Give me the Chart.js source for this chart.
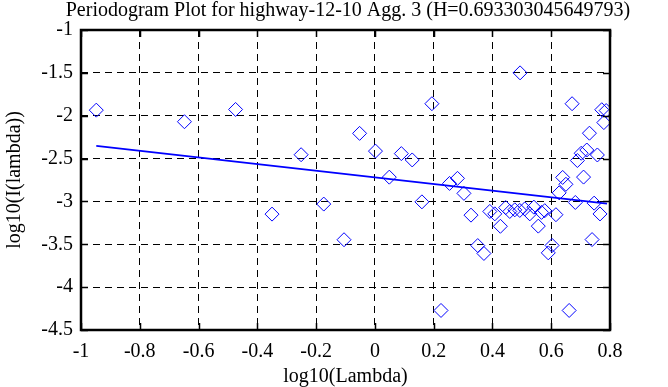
<!DOCTYPE html>
<html>
<head>
<meta charset="utf-8">
<script src="https://cdn.jsdelivr.net/npm/chart.js@4.4.1/dist/chart.umd.min.js"></script>
<style>
  html, body { margin:0; padding:0; background:#fff; }
  #wrap { width:668px; height:387px; }
</style>
</head>
<body>
<div id="wrap"><canvas id="pgram" width="668" height="387"></canvas></div>
<script>
// periodogram points (log10 lambda, log10 I(lambda))
const logLambda = [
  -0.948, -0.648, -0.474, -0.350, -0.251, -0.174, -0.105, -0.052, 0.002, 0.049,
  0.090, 0.127, 0.160, 0.194, 0.225, 0.254, 0.281, 0.303, 0.327, 0.350,
  0.371, 0.391, 0.408, 0.427, 0.445, 0.459, 0.476, 0.493, 0.494, 0.510,
  0.527, 0.541, 0.556, 0.567, 0.578, 0.590, 0.603, 0.616, 0.627, 0.639,
  0.650, 0.661, 0.671, 0.682, 0.689, 0.702, 0.710, 0.721, 0.730, 0.739,
  0.746, 0.757, 0.766, 0.772, 0.779, 0.787
];
const logPower = [
  -1.935, -2.070, -1.927, -3.148, -2.455, -3.031, -3.447, -2.206, -2.413, -2.717,
  -2.442, -2.516, -3.005, -1.860, -4.272, -2.790, -2.731, -2.906, -3.160, -3.515,
  -3.607, -3.117, -3.145, -3.290, -3.072, -3.117, -3.098, -3.105, -1.500, -3.087,
  -3.145, -3.067, -3.288, -3.128, -3.108, -3.600, -3.513, -3.155, -2.900, -2.720,
  -2.800, -4.272, -1.860, -3.012, -2.523, -2.438, -2.716, -2.400, -2.204, -3.445,
  -3.020, -2.458, -3.146, -1.930, -2.080, -1.940
];
// least squares fit line endpoints
const fitX = [-0.948, 0.79];
const fitY = [-2.353, -3.025];

const xTicks = [-1, -0.8, -0.6, -0.4, -0.2, 0, 0.2, 0.4, 0.6, 0.8];
const yTicks = [-1, -1.5, -2, -2.5, -3, -3.5, -4, -4.5];

const titleText = 'Periodogram Plot for highway-12-10 Agg. 3 (H=0.693303045649793)';
const serif = 'Liberation Serif';
const fmt = v => (Math.round(v * 10) / 10).toString();

// title, plus solid box round the plot with short inward ticks
const frame = {
  id: 'frame',
  afterDraw(chart) {
    const {ctx, chartArea: a, scales: {x, y}} = chart;
    ctx.save();
    ctx.fillStyle = '#000';
    ctx.font = '20px "' + serif + '"';
    ctx.textAlign = 'center';
    ctx.textBaseline = 'middle';
    ctx.fillText(titleText, 348, 11);

    ctx.strokeStyle = '#000';
    ctx.lineWidth = 1.5;
    ctx.beginPath();
    xTicks.forEach(v => {
      const px = Math.round(x.getPixelForValue(v)) + 0.5;
      ctx.moveTo(px, a.top); ctx.lineTo(px, a.top + 7);
      ctx.moveTo(px, a.bottom); ctx.lineTo(px, a.bottom - 7);
    });
    yTicks.forEach(v => {
      const py = Math.round(y.getPixelForValue(v)) + 0.5;
      ctx.moveTo(a.left, py); ctx.lineTo(a.left + 7, py);
      ctx.moveTo(a.right, py); ctx.lineTo(a.right - 7, py);
    });
    ctx.stroke();
    ctx.lineWidth = 2.5;
    ctx.strokeRect(a.left, a.top, a.right - a.left, a.bottom - a.top);
    ctx.restore();
  }
};

new Chart(document.getElementById('pgram'), {
  type: 'scatter',
  data: {
    datasets: [
      {
        label: 'fit',
        data: fitX.map((v, i) => ({x: v, y: fitY[i]})),
        showLine: true, borderColor: '#0000ff', borderWidth: 1.8,
        pointRadius: 0, fill: false
      },
      {
        label: 'periodogram',
        data: logLambda.map((v, i) => ({x: v, y: logPower[i]})),
        pointStyle: 'rectRot', pointRadius: 7, borderWidth: 1,
        borderColor: '#0000ff', backgroundColor: 'rgba(0,0,0,0)'
      }
    ]
  },
  options: {
    responsive: false, animation: false, devicePixelRatio: 1,
    layout: {padding: {top: 30, right: 58}},
    plugins: {
      legend: {display: false},
      tooltip: {enabled: false},
      title: {display: false}
    },
    scales: {
      x: {
        type: 'linear', min: -1, max: 0.8,
        afterBuildTicks: s => { s.ticks = xTicks.map(v => ({value: v})); },
        afterFit: s => { s.height = 57; },
        grid: {color: '#000', lineWidth: 1, drawTicks: false},
        border: {display: false, dash: [7, 5]},
        ticks: {color: '#000', font: {family: serif, size: 20}, padding: 10,
                maxRotation: 0, autoSkip: false, callback: fmt},
        title: {display: true, text: 'log10(Lambda)', color: '#000',
                font: {family: serif, size: 20, lineHeight: 1}, padding: {top: 0, bottom: 0}}
      },
      y: {
        type: 'linear', min: -4.5, max: -1,
        afterBuildTicks: s => { s.ticks = yTicks.map(v => ({value: v})); },
        afterFit: s => { s.width = 81; },
        grid: {color: '#000', lineWidth: 1, drawTicks: false},
        border: {display: false, dash: [7, 5]},
        ticks: {color: '#000', font: {family: serif, size: 20}, padding: 8,
                autoSkip: false, callback: fmt},
        title: {display: true, text: 'log10(I(lambda))', color: '#000',
                font: {family: serif, size: 20, lineHeight: 1}, padding: {top: 5, bottom: 0}}
      }
    }
  },
  plugins: [frame]
});
</script>
</body>
</html>
